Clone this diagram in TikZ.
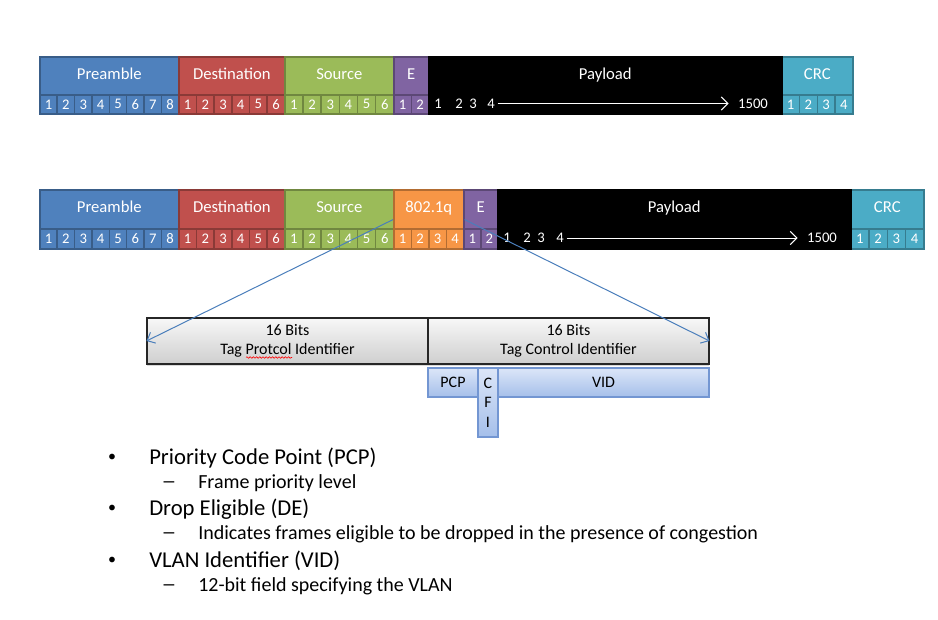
\documentclass[tikz,border=0pt]{standalone}
\usepackage{fontspec}
\setmainfont{Carlito}
\usetikzlibrary{arrows.meta,shadows,decorations.pathmorphing}

\definecolor{preBlue}{HTML}{4F81BD}
\definecolor{destRed}{HTML}{C0504D}
\definecolor{srcGreen}{HTML}{9BBB59}
\definecolor{ethPurple}{HTML}{8064A2}
\definecolor{tagOrange}{HTML}{F79646}
\definecolor{crcTeal}{HTML}{4BACC6}
\definecolor{linkBlue}{HTML}{4A7EBB}
\definecolor{tciTop}{HTML}{DCE6F8}
\definecolor{tciBottom}{HTML}{A5BFEA}
\definecolor{tciLine}{HTML}{7396D2}

\tikzset{
  lab/.style={draw=#1!72!black, fill=#1, line width=1.2pt, text=white, inner sep=0pt,
    anchor=north west, font=\fontsize{12.5}{14}\selectfont, text height=8pt, text depth=2.5pt},
  cell/.style={draw=#1!72!black, fill=#1, line width=1.2pt, text=white, inner sep=0pt,
    anchor=north west, font=\fontsize{11}{13}\selectfont},
  num/.style={text=white, inner sep=1pt, font=\fontsize{11}{13}\selectfont},
  payarrow/.style={white, line width=0.7pt, -{Straight Barb[length=5pt,width=10pt]},
    shorten <=1pt, shorten >=6pt},
  tagfield/.style={draw=black!85, line width=0.8pt, top color=gray!6, bottom color=gray!38,
    align=center, minimum height=34.5pt, minimum width=210.75pt, inner sep=0pt,
    font=\fontsize{12}{14.4}\selectfont,
    drop shadow={shadow xshift=0pt, shadow yshift=-1.5pt, opacity=0.3}},
  tcifield/.style={draw=tciLine, line width=0.8pt, top color=tciTop, bottom color=tciBottom,
    align=center, inner sep=0pt, font=\fontsize{12}{14.6}\selectfont,
    drop shadow={shadow xshift=0.8pt, shadow yshift=-0.8pt, opacity=0.25}},
  link/.style={linkBlue, line width=0.75pt, -{Straight Barb[length=5pt,width=9pt]}},
  spell/.style={red, line width=0.45pt, decorate,
    decoration={snake, amplitude=0.6pt, segment length=2.4pt}},
  head/.style={anchor=west, inner sep=0pt, font=\fontsize{17}{20}\selectfont},
  sub/.style={anchor=west, inner sep=0pt, font=\fontsize{15}{18}\selectfont}
}

\begin{document}
\begin{tikzpicture}[x=0.75pt, y=-0.75pt]
\useasboundingbox (0,0) rectangle (938,620);

% untagged frame
\foreach \a/\b/\n/\c/\t [count=\i] in {39/178/8/preBlue/Preamble, 178/284/6/destRed/Destination,
    284/393/6/srcGreen/Source, 393/428/2/ethPurple/E, 781/852/4/crcTeal/CRC} {
  \node[lab=\c, minimum width={(\b-\a)*0.75pt}, minimum height=28.5pt] (top\i) at (\a,56) {\t};
  \foreach \k in {1,...,\n}
    \node[cell=\c, minimum width={(\b-\a)/\n*0.75pt}, minimum height=14.25pt]
      (top\i-\k) at ({\a+(\k-1)*(\b-\a)/\n},94) {\k};
}
\node[lab=black, minimum width=264.75pt, minimum height=28.5pt] (topPay) at (428,56) {Payload};
\node[cell=black, minimum width=264.75pt, minimum height=14.25pt] (topPayRow) at (428,94) {};
\foreach \d/\o in {1/10, 2/31, 3/45, 4/63}
  \node[num] (topPay-\d) at ({428+\o},103.5) {\d};
\node[num] (topPay-end) at (753,103.5) {1500};
\draw[payarrow] (topPay-4) -- (topPay-end);

% tagged frame
\foreach \a/\b/\n/\c/\t [count=\i] in {39/178/8/preBlue/Preamble, 178/284/6/destRed/Destination,
    284/393/6/srcGreen/Source, 393/463/4/tagOrange/802.1q, 463/497/2/ethPurple/E,
    850/923/4/crcTeal/CRC} {
  \node[lab=\c, minimum width={(\b-\a)*0.75pt}, minimum height=29.25pt] (bot\i) at (\a,189) {\t};
  \foreach \k in {1,...,\n}
    \node[cell=\c, minimum width={(\b-\a)/\n*0.75pt}, minimum height=15pt]
      (bot\i-\k) at ({\a+(\k-1)*(\b-\a)/\n},228) {\k};
}
\node[lab=black, minimum width=264.75pt, minimum height=29.25pt] (botPay) at (497,189) {Payload};
\node[cell=black, minimum width=264.75pt, minimum height=15pt] (botPayRow) at (497,228) {};
\foreach \d/\o in {1/10, 2/30, 3/44, 4/63}
  \node[num] (botPay-\d) at ({497+\o},238) {\d};
\node[num] (botPay-end) at (822,238) {1500};
\draw[payarrow] (botPay-4) -- (botPay-end);

% 802.1q tag
\node[tagfield] (tpid) at (287.5,341) {16 Bits\\Tag Protcol Identifier};
\node[tagfield] (tci) at (568.5,341) {16 Bits\\Tag Control Identifier};
\draw[spell] (246,357.5) -- (292,357.5);

\node[tcifield, minimum width=37.5pt, minimum height=21.75pt] (pcp) at (453,382.5) {PCP};
\node[tcifield, minimum width=158.25pt, minimum height=21.75pt] (vid) at (603.5,382.5) {VID};
\node[tcifield, minimum width=15pt, minimum height=51.75pt] (cfi) at (488,402.5) {C\\F\\I};

\draw[link] ([yshift=7.5pt]bot4.south west) -- (tpid.west);
\draw[link] ([yshift=7.5pt]bot4.south east) -- (tci.east);

% bullets
\foreach \y/\h/\s [count=\i] in {458/{Priority Code Point (PCP)}/{Frame priority level},
    509/{Drop Eligible (DE)}/{Indicates frames eligible to be dropped in the presence of congestion},
    561/{VLAN Identifier (VID)}/{12-bit field specifying the VLAN}} {
  \node[font=\fontsize{12}{13}\selectfont, inner sep=0pt] (dot\i) at (112,\y) {•};
  \node[head] (item\i) at (149,\y) {\h};
  \node[font=\fontsize{11}{13}\bfseries, inner sep=0pt] (dash\i) at (169,{\y+26}) {—};
  \node[sub] (text\i) at (198,{\y+25.5}) {\s};
}
\end{tikzpicture}
\end{document}
